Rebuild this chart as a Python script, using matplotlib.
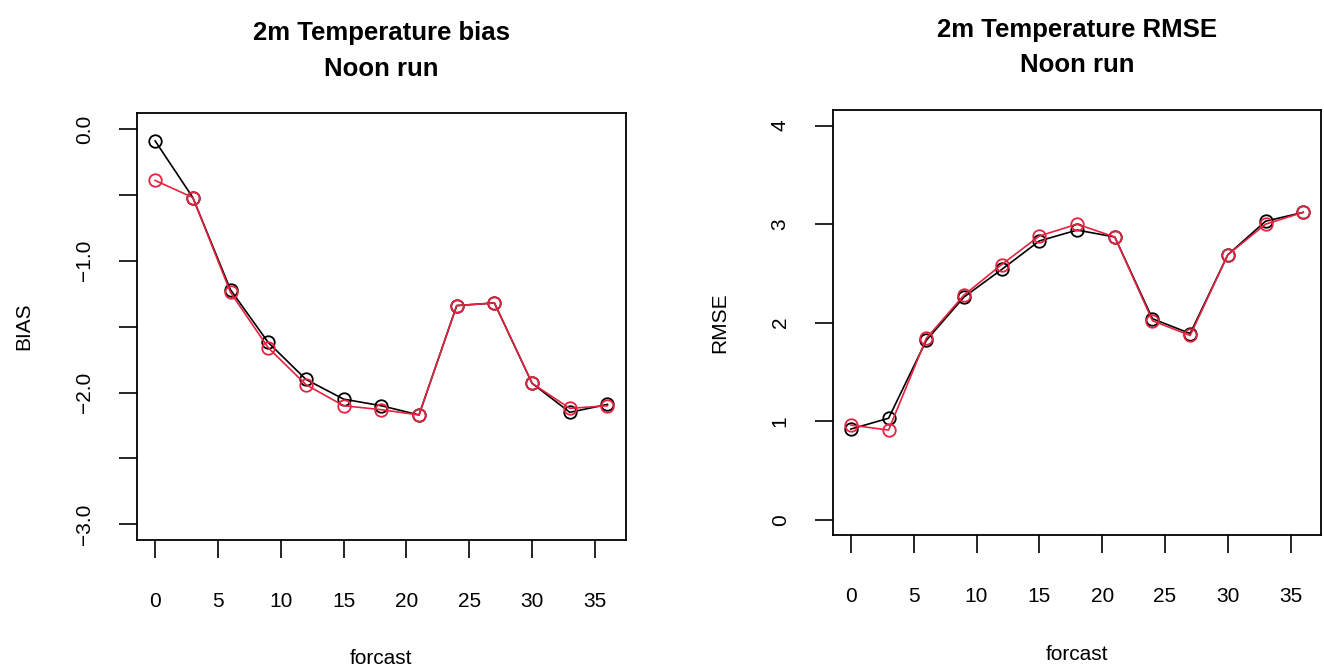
import numpy as np
import matplotlib.pyplot as plt

plt.rcParams['font.family'] = ['Liberation Sans', 'DejaVu Sans']

# 预报时效
hours = [0, 3, 6, 9, 12, 15, 18, 21, 24, 27, 30, 33, 36]

# 偏差 (两组)
bias_black = [-0.09, -0.52, -1.22, -1.62, -1.90, -2.05, -2.10, -2.17, -1.34, -1.32, -1.93, -2.15, -2.09]
bias_red = [-0.39, -0.52, -1.24, -1.66, -1.94, -2.10, -2.13, -2.17, -1.34, -1.32, -1.93, -2.12, -2.10]

# 均方根误差 (两组)
rmse_black = [0.92, 1.03, 1.82, 2.26, 2.54, 2.83, 2.94, 2.87, 2.04, 1.89, 2.69, 3.03, 3.12]
rmse_red = [0.96, 0.91, 1.84, 2.28, 2.59, 2.88, 3.00, 2.87, 2.02, 1.87, 2.69, 3.00, 3.12]

x_ticks = [0, 5, 10, 15, 20, 25, 30, 35]
bias_ticks = [0.0, -0.5, -1.0, -1.5, -2.0, -2.5, -3.0]
bias_labels = ['0.0', '', '\u22121.0', '', '\u22122.0', '', '\u22123.0']
rmse_ticks = [0, 1, 2, 3, 4]

red = '#e5223f'

fig = plt.figure(figsize=(13.24, 6.66), dpi=100)
ax1 = fig.add_axes([0.1035, 0.189, 0.369, 0.641])
ax2 = fig.add_axes([0.629, 0.196, 0.369, 0.639])


def draw(ax, y1, y2):
    ax.plot(hours, y1, '-o', color='black', linewidth=1.2, markersize=9,
            markerfacecolor='none', markeredgewidth=1.3)
    ax.plot(hours, y2, '-o', color=red, linewidth=1.2, markersize=9,
            markerfacecolor='none', markeredgewidth=1.3)
    ax.set_xlim(-1.44, 37.44)
    ax.set_xticks(x_ticks)
    ax.tick_params(direction='out', length=13, width=1.2, labelsize=15)
    ax.tick_params(axis='x', pad=24)
    ax.tick_params(axis='y', pad=18)
    for s in ax.spines.values():
        s.set_linewidth(1.3)


draw(ax1, bias_black, bias_red)
ax1.set_ylim(-3.12, 0.12)
ax1.set_yticks(bias_ticks)
ax1.set_yticklabels(bias_labels, rotation=90, va='center')
ax1.set_xlabel('forcast', fontsize=15, labelpad=28)
ax1.set_ylabel('BIAS', fontsize=15, labelpad=30)
ax1.set_title('2m Temperature bias\nNoon run', fontsize=18.5, fontweight='bold',
              pad=27, linespacing=1.6)

draw(ax2, rmse_black, rmse_red)
ax2.set_ylim(-0.16, 4.16)
ax2.set_yticks(rmse_ticks)
ax2.set_yticklabels([str(t) for t in rmse_ticks], rotation=90, va='center')
ax2.set_xlabel('forcast', fontsize=15, labelpad=28)
ax2.set_ylabel('RMSE', fontsize=15, labelpad=30)
ax2.set_title('2m Temperature RMSE\nNoon run', fontsize=18.5, fontweight='bold',
              pad=27, linespacing=1.6)

plt.savefig('out.png', dpi=100)
